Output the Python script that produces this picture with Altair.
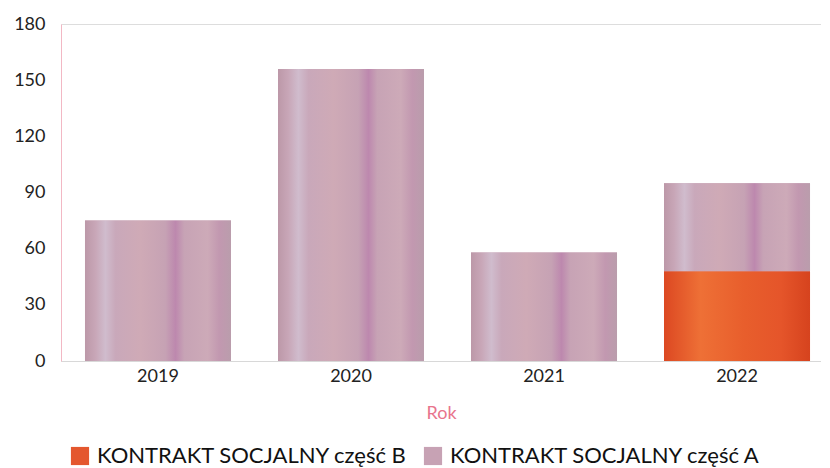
import altair as alt
import pandas as pd

years = ["2019", "2020", "2021", "2022"]
part_a = [75, 156, 58, 47]
part_b = [0, 0, 0, 48]
series_names = ["KONTRAKT SOCJALNY część B", "KONTRAKT SOCJALNY część A"]

rows = []
for i, y in enumerate(years):
    rows.append({"Rok": y, "Seria": series_names[0], "Wartość": part_b[i], "order": 0})
    rows.append({"Rok": y, "Seria": series_names[1], "Wartość": part_a[i], "order": 1})
df = pd.DataFrame(rows)

FONT = "Lato"

def grad(stops):
    return alt.LinearGradient(
        gradient="linear", x1=0, x2=1, y1=0, y2=0,
        stops=[alt.GradientStop(offset=o, color=c) for o, c in stops])

grad_a = grad([(0.0, "#bc98a8"), (0.07, "#c8a6b7"), (0.14, "#d0bccd"), (0.21, "#c9a8ba"),
               (0.38, "#cfaab6"), (0.55, "#c6a2b4"), (0.62, "#bd88ae"), (0.68, "#c7a3b5"),
               (0.84, "#cdaab8"), (0.92, "#c298b0"), (1.0, "#ba9dac")])
grad_b = grad([(0.0, "#dc4822"), (0.25, "#ee7036"), (0.55, "#e85e2c"), (0.8, "#e5552a"),
               (1.0, "#d6431e")])

x_enc = alt.X("Rok:N", sort=years,
              scale=alt.Scale(paddingInner=0.2435, paddingOuter=0.0906, align=0.686),
              axis=alt.Axis(labelAngle=0, ticks=False, labelPadding=6,
                            domainColor="#d8d8d8", labelFontSize=18, labelColor="#222",
                            title="Rok", titleColor="#e8748c", titleFontSize=18,
                            titleFontWeight="normal", titlePadding=19))
y_scale = alt.Scale(domain=[0, 180])
y_axis = alt.Axis(values=[0, 30, 60, 90, 120, 150, 180], ticks=False, grid=False,
                  labelPadding=16, domainColor="#f2b8c4", labelFontSize=18,
                  labelColor="#222", title=None)

base = alt.Chart(df).transform_stack(
    stack="Wartość", as_=["y0", "y1"], groupby=["Rok"], sort=[alt.SortField("order")]
)

legend_layer = base.mark_bar().encode(
    x=x_enc,
    y=alt.Y("y0:Q", scale=y_scale, axis=y_axis),
    y2="y1:Q",
    color=alt.Color("Seria:N", sort=series_names,
                    scale=alt.Scale(domain=series_names, range=["#e4572e", "#c7a2b4"]),
                    legend=alt.Legend(title=None, orient="none", direction="horizontal",
                                      legendX=8, legendY=421, symbolType="square",
                                      symbolSize=330, symbolStrokeWidth=0,
                                      labelFontSize=22, labelColor="#111",
                                      labelOffset=6, columnPadding=14, labelLimit=500)),
)

layer_b = base.transform_filter(alt.datum.order == 0).mark_bar(color=grad_b).encode(
    x=alt.X("Rok:N", sort=years), y="y0:Q", y2="y1:Q")
layer_a = base.transform_filter(alt.datum.order == 1).mark_bar(color=grad_a).encode(
    x=alt.X("Rok:N", sort=years), y="y0:Q", y2="y1:Q")

chart = alt.layer(legend_layer, layer_b, layer_a).properties(
    width=760, height=337,
    padding={"left": 5, "top": 7, "right": 0, "bottom": 0},
).configure_view(stroke=None).configure(font=FONT)

chart.save("out.html", embed_options={"renderer": "svg", "actions": False})
